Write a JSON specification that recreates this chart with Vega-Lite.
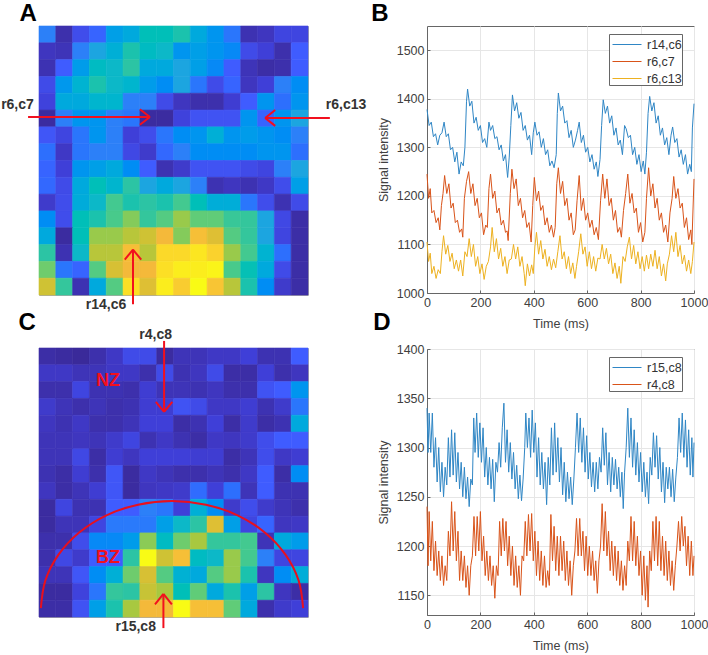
{"$schema":"https://vega.github.io/schema/vega-lite/v6.json","background":"white","padding":{"left":0,"top":1,"right":0,"bottom":0},"bounds":"flush","spacing":388,"resolve":{"scale":{"color":"independent","stroke":"independent","size":"independent"},"legend":{"color":"independent"}},
"config":{"font":"Liberation Sans","axis":{"labelFont":"Liberation Sans","titleFont":"Liberation Sans","labelFontSize":12.5,"titleFontSize":12.5,"titleFontWeight":"normal","labelColor":"#404040","titleColor":"#404040","gridColor":"#e6e6e6","domainColor":"#666666","tickColor":"#666666","tickSize":-3,"labelPadding":6,"labelOverlap":false,"labelFlush":false,"format":"d"}},
"datasets":{
"heatA":[
{"r":1,"c":1,"v":30},{"r":1,"c":2,"v":3},{"r":1,"c":3,"v":15},{"r":1,"c":4,"v":22},{"r":1,"c":5,"v":38},{"r":1,"c":6,"v":42},{"r":1,"c":7,"v":55},{"r":1,"c":8,"v":55},{"r":1,"c":9,"v":58},{"r":1,"c":10,"v":42},{"r":1,"c":11,"v":35},{"r":1,"c":12,"v":27},{"r":1,"c":13,"v":4},{"r":1,"c":14,"v":6},{"r":1,"c":15,"v":12},{"r":1,"c":16,"v":12},
{"r":2,"c":1,"v":6},{"r":2,"c":2,"v":5},{"r":2,"c":3,"v":30},{"r":2,"c":4,"v":40},{"r":2,"c":5,"v":45},{"r":2,"c":6,"v":58},{"r":2,"c":7,"v":52},{"r":2,"c":8,"v":50},{"r":2,"c":9,"v":35},{"r":2,"c":10,"v":38},{"r":2,"c":11,"v":35},{"r":2,"c":12,"v":32},{"r":2,"c":13,"v":14},{"r":2,"c":14,"v":10},{"r":2,"c":15,"v":3},{"r":2,"c":16,"v":20},
{"r":3,"c":1,"v":4},{"r":3,"c":2,"v":20},{"r":3,"c":3,"v":37},{"r":3,"c":4,"v":52},{"r":3,"c":5,"v":50},{"r":3,"c":6,"v":60},{"r":3,"c":7,"v":42},{"r":3,"c":8,"v":42},{"r":3,"c":9,"v":40},{"r":3,"c":10,"v":38},{"r":3,"c":11,"v":32},{"r":3,"c":12,"v":20},{"r":3,"c":13,"v":5},{"r":3,"c":14,"v":2},{"r":3,"c":15,"v":3},{"r":3,"c":16,"v":20},
{"r":4,"c":1,"v":14},{"r":4,"c":2,"v":36},{"r":4,"c":3,"v":47},{"r":4,"c":4,"v":58},{"r":4,"c":5,"v":50},{"r":4,"c":6,"v":48},{"r":4,"c":7,"v":37},{"r":4,"c":8,"v":33},{"r":4,"c":9,"v":40},{"r":4,"c":10,"v":27},{"r":4,"c":11,"v":14},{"r":4,"c":12,"v":22},{"r":4,"c":13,"v":6},{"r":4,"c":14,"v":10},{"r":4,"c":15,"v":30},{"r":4,"c":16,"v":33},
{"r":5,"c":1,"v":11},{"r":5,"c":2,"v":42},{"r":5,"c":3,"v":42},{"r":5,"c":4,"v":48},{"r":5,"c":5,"v":48},{"r":5,"c":6,"v":30},{"r":5,"c":7,"v":30},{"r":5,"c":8,"v":14},{"r":5,"c":9,"v":6},{"r":5,"c":10,"v":3},{"r":5,"c":11,"v":3},{"r":5,"c":12,"v":9},{"r":5,"c":13,"v":20},{"r":5,"c":14,"v":35},{"r":5,"c":15,"v":25},{"r":5,"c":16,"v":35},
{"r":6,"c":1,"v":1},{"r":6,"c":2,"v":30},{"r":6,"c":3,"v":35},{"r":6,"c":4,"v":35},{"r":6,"c":5,"v":30},{"r":6,"c":6,"v":27},{"r":6,"c":7,"v":1},{"r":6,"c":8,"v":1},{"r":6,"c":9,"v":11},{"r":6,"c":10,"v":17},{"r":6,"c":11,"v":17},{"r":6,"c":12,"v":17},{"r":6,"c":13,"v":35},{"r":6,"c":14,"v":22},{"r":6,"c":15,"v":35},{"r":6,"c":16,"v":40},
{"r":7,"c":1,"v":18},{"r":7,"c":2,"v":12},{"r":7,"c":3,"v":27},{"r":7,"c":4,"v":35},{"r":7,"c":5,"v":30},{"r":7,"c":6,"v":10},{"r":7,"c":7,"v":15},{"r":7,"c":8,"v":27},{"r":7,"c":9,"v":33},{"r":7,"c":10,"v":35},{"r":7,"c":11,"v":45},{"r":7,"c":12,"v":35},{"r":7,"c":13,"v":37},{"r":7,"c":14,"v":35},{"r":7,"c":15,"v":33},{"r":7,"c":16,"v":30},
{"r":8,"c":1,"v":25},{"r":8,"c":2,"v":7},{"r":8,"c":3,"v":27},{"r":8,"c":4,"v":30},{"r":8,"c":5,"v":30},{"r":8,"c":6,"v":13},{"r":8,"c":7,"v":8},{"r":8,"c":8,"v":23},{"r":8,"c":9,"v":30},{"r":8,"c":10,"v":33},{"r":8,"c":11,"v":33},{"r":8,"c":12,"v":33},{"r":8,"c":13,"v":33},{"r":8,"c":14,"v":35},{"r":8,"c":15,"v":35},{"r":8,"c":16,"v":25},
{"r":9,"c":1,"v":22},{"r":9,"c":2,"v":10},{"r":9,"c":3,"v":35},{"r":9,"c":4,"v":38},{"r":9,"c":5,"v":42},{"r":9,"c":6,"v":33},{"r":9,"c":7,"v":20},{"r":9,"c":8,"v":4},{"r":9,"c":9,"v":8},{"r":9,"c":10,"v":17},{"r":9,"c":11,"v":17},{"r":9,"c":12,"v":17},{"r":9,"c":13,"v":14},{"r":9,"c":14,"v":12},{"r":9,"c":15,"v":30},{"r":9,"c":16,"v":40},
{"r":10,"c":1,"v":23},{"r":10,"c":2,"v":14},{"r":10,"c":3,"v":42},{"r":10,"c":4,"v":55},{"r":10,"c":5,"v":48},{"r":10,"c":6,"v":60},{"r":10,"c":7,"v":40},{"r":10,"c":8,"v":42},{"r":10,"c":9,"v":40},{"r":10,"c":10,"v":30},{"r":10,"c":11,"v":4},{"r":10,"c":12,"v":6},{"r":10,"c":13,"v":4},{"r":10,"c":14,"v":7},{"r":10,"c":15,"v":15},{"r":10,"c":16,"v":38},
{"r":11,"c":1,"v":8},{"r":11,"c":2,"v":15},{"r":11,"c":3,"v":43},{"r":11,"c":4,"v":50},{"r":11,"c":5,"v":65},{"r":11,"c":6,"v":58},{"r":11,"c":7,"v":60},{"r":11,"c":8,"v":58},{"r":11,"c":9,"v":65},{"r":11,"c":10,"v":55},{"r":11,"c":11,"v":44},{"r":11,"c":12,"v":44},{"r":11,"c":13,"v":27},{"r":11,"c":14,"v":15},{"r":11,"c":15,"v":4},{"r":11,"c":16,"v":14},
{"r":12,"c":1,"v":33},{"r":12,"c":2,"v":15},{"r":12,"c":3,"v":55},{"r":12,"c":4,"v":58},{"r":12,"c":5,"v":66},{"r":12,"c":6,"v":75},{"r":12,"c":7,"v":62},{"r":12,"c":8,"v":68},{"r":12,"c":9,"v":78},{"r":12,"c":10,"v":70},{"r":12,"c":11,"v":70},{"r":12,"c":12,"v":63},{"r":12,"c":13,"v":62},{"r":12,"c":14,"v":40},{"r":12,"c":15,"v":13},{"r":12,"c":16,"v":2},
{"r":13,"c":1,"v":42},{"r":13,"c":2,"v":1},{"r":13,"c":3,"v":55},{"r":13,"c":4,"v":78},{"r":13,"c":5,"v":78},{"r":13,"c":6,"v":82},{"r":13,"c":7,"v":85},{"r":13,"c":8,"v":90},{"r":13,"c":9,"v":75},{"r":13,"c":10,"v":91},{"r":13,"c":11,"v":87},{"r":13,"c":12,"v":68},{"r":13,"c":13,"v":62},{"r":13,"c":14,"v":40},{"r":13,"c":15,"v":12},{"r":13,"c":16,"v":2},
{"r":14,"c":1,"v":60},{"r":14,"c":2,"v":4},{"r":14,"c":3,"v":50},{"r":14,"c":4,"v":82},{"r":14,"c":5,"v":82},{"r":14,"c":6,"v":91},{"r":14,"c":7,"v":82},{"r":14,"c":8,"v":95},{"r":14,"c":9,"v":95},{"r":14,"c":10,"v":97},{"r":14,"c":11,"v":94},{"r":14,"c":12,"v":78},{"r":14,"c":13,"v":65},{"r":14,"c":14,"v":47},{"r":14,"c":15,"v":25},{"r":14,"c":16,"v":2},
{"r":15,"c":1,"v":72},{"r":15,"c":2,"v":27},{"r":15,"c":3,"v":22},{"r":15,"c":4,"v":68},{"r":15,"c":5,"v":86},{"r":15,"c":6,"v":90},{"r":15,"c":7,"v":90},{"r":15,"c":8,"v":96},{"r":15,"c":9,"v":98},{"r":15,"c":10,"v":98},{"r":15,"c":11,"v":99},{"r":15,"c":12,"v":66},{"r":15,"c":13,"v":56},{"r":15,"c":14,"v":42},{"r":15,"c":15,"v":14},{"r":15,"c":16,"v":2},
{"r":16,"c":1,"v":85},{"r":16,"c":2,"v":62},{"r":16,"c":3,"v":4},{"r":16,"c":4,"v":42},{"r":16,"c":5,"v":68},{"r":16,"c":6,"v":96},{"r":16,"c":7,"v":87},{"r":16,"c":8,"v":98},{"r":16,"c":9,"v":93},{"r":16,"c":10,"v":100},{"r":16,"c":11,"v":92},{"r":16,"c":12,"v":82},{"r":16,"c":13,"v":58},{"r":16,"c":14,"v":33},{"r":16,"c":15,"v":8},{"r":16,"c":16,"v":2}],
"heatC":[
{"r":1,"c":1,"v":2},{"r":1,"c":2,"v":1},{"r":1,"c":3,"v":0},{"r":1,"c":4,"v":3},{"r":1,"c":5,"v":7},{"r":1,"c":6,"v":14},{"r":1,"c":7,"v":14},{"r":1,"c":8,"v":1},{"r":1,"c":9,"v":5},{"r":1,"c":10,"v":5},{"r":1,"c":11,"v":7},{"r":1,"c":12,"v":7},{"r":1,"c":13,"v":10},{"r":1,"c":14,"v":4},{"r":1,"c":15,"v":4},{"r":1,"c":16,"v":20},
{"r":2,"c":1,"v":7},{"r":2,"c":2,"v":7},{"r":2,"c":3,"v":5},{"r":2,"c":4,"v":5},{"r":2,"c":5,"v":7},{"r":2,"c":6,"v":7},{"r":2,"c":7,"v":3},{"r":2,"c":8,"v":14},{"r":2,"c":9,"v":4},{"r":2,"c":10,"v":6},{"r":2,"c":11,"v":14},{"r":2,"c":12,"v":2},{"r":2,"c":13,"v":2},{"r":2,"c":14,"v":10},{"r":2,"c":15,"v":3},{"r":2,"c":16,"v":6},
{"r":3,"c":1,"v":3},{"r":3,"c":2,"v":3},{"r":3,"c":3,"v":12},{"r":3,"c":4,"v":4},{"r":3,"c":5,"v":4},{"r":3,"c":6,"v":3},{"r":3,"c":7,"v":9},{"r":3,"c":8,"v":5},{"r":3,"c":9,"v":5},{"r":3,"c":10,"v":4},{"r":3,"c":11,"v":6},{"r":3,"c":12,"v":3},{"r":3,"c":13,"v":3},{"r":3,"c":14,"v":17},{"r":3,"c":15,"v":20},{"r":3,"c":16,"v":35},
{"r":4,"c":1,"v":8},{"r":4,"c":2,"v":5},{"r":4,"c":3,"v":3},{"r":4,"c":4,"v":5},{"r":4,"c":5,"v":3},{"r":4,"c":6,"v":4},{"r":4,"c":7,"v":9},{"r":4,"c":8,"v":9},{"r":4,"c":9,"v":17},{"r":4,"c":10,"v":14},{"r":4,"c":11,"v":7},{"r":4,"c":12,"v":7},{"r":4,"c":13,"v":9},{"r":4,"c":14,"v":4},{"r":4,"c":15,"v":8},{"r":4,"c":16,"v":27},
{"r":5,"c":1,"v":6},{"r":5,"c":2,"v":4},{"r":5,"c":3,"v":7},{"r":5,"c":4,"v":3},{"r":5,"c":5,"v":3},{"r":5,"c":6,"v":5},{"r":5,"c":7,"v":10},{"r":5,"c":8,"v":10},{"r":5,"c":9,"v":2},{"r":5,"c":10,"v":4},{"r":5,"c":11,"v":10},{"r":5,"c":12,"v":2},{"r":5,"c":13,"v":8},{"r":5,"c":14,"v":2},{"r":5,"c":15,"v":4},{"r":5,"c":16,"v":42},
{"r":6,"c":1,"v":5},{"r":6,"c":2,"v":5},{"r":6,"c":3,"v":6},{"r":6,"c":4,"v":5},{"r":6,"c":5,"v":8},{"r":6,"c":6,"v":12},{"r":6,"c":7,"v":4},{"r":6,"c":8,"v":7},{"r":6,"c":9,"v":4},{"r":6,"c":10,"v":2},{"r":6,"c":11,"v":7},{"r":6,"c":12,"v":6},{"r":6,"c":13,"v":8},{"r":6,"c":14,"v":15},{"r":6,"c":15,"v":20},{"r":6,"c":16,"v":20},
{"r":7,"c":1,"v":5},{"r":7,"c":2,"v":5},{"r":7,"c":3,"v":13},{"r":7,"c":4,"v":2},{"r":7,"c":5,"v":9},{"r":7,"c":6,"v":6},{"r":7,"c":7,"v":10},{"r":7,"c":8,"v":10},{"r":7,"c":9,"v":10},{"r":7,"c":10,"v":9},{"r":7,"c":11,"v":9},{"r":7,"c":12,"v":2},{"r":7,"c":13,"v":5},{"r":7,"c":14,"v":15},{"r":7,"c":15,"v":7},{"r":7,"c":16,"v":9},
{"r":8,"c":1,"v":4},{"r":8,"c":2,"v":2},{"r":8,"c":3,"v":9},{"r":8,"c":4,"v":3},{"r":8,"c":5,"v":18},{"r":8,"c":6,"v":1},{"r":8,"c":7,"v":7},{"r":8,"c":8,"v":5},{"r":8,"c":9,"v":3},{"r":8,"c":10,"v":3},{"r":8,"c":11,"v":5},{"r":8,"c":12,"v":3},{"r":8,"c":13,"v":7},{"r":8,"c":14,"v":20},{"r":8,"c":15,"v":2},{"r":8,"c":16,"v":33},
{"r":9,"c":1,"v":6},{"r":9,"c":2,"v":2},{"r":9,"c":3,"v":5},{"r":9,"c":4,"v":9},{"r":9,"c":5,"v":18},{"r":9,"c":6,"v":1},{"r":9,"c":7,"v":6},{"r":9,"c":8,"v":7},{"r":9,"c":9,"v":8},{"r":9,"c":10,"v":24},{"r":9,"c":11,"v":10},{"r":9,"c":12,"v":25},{"r":9,"c":13,"v":5},{"r":9,"c":14,"v":20},{"r":9,"c":15,"v":4},{"r":9,"c":16,"v":4},
{"r":10,"c":1,"v":1},{"r":10,"c":2,"v":12},{"r":10,"c":3,"v":4},{"r":10,"c":4,"v":4},{"r":10,"c":5,"v":20},{"r":10,"c":6,"v":20},{"r":10,"c":7,"v":30},{"r":10,"c":8,"v":27},{"r":10,"c":9,"v":10},{"r":10,"c":10,"v":45},{"r":10,"c":11,"v":33},{"r":10,"c":12,"v":8},{"r":10,"c":13,"v":15},{"r":10,"c":14,"v":8},{"r":10,"c":15,"v":5},{"r":10,"c":16,"v":3},
{"r":11,"c":1,"v":1},{"r":11,"c":2,"v":5},{"r":11,"c":3,"v":5},{"r":11,"c":4,"v":12},{"r":11,"c":5,"v":28},{"r":11,"c":6,"v":28},{"r":11,"c":7,"v":28},{"r":11,"c":8,"v":38},{"r":11,"c":9,"v":50},{"r":11,"c":10,"v":60},{"r":11,"c":11,"v":87},{"r":11,"c":12,"v":38},{"r":11,"c":13,"v":12},{"r":11,"c":14,"v":22},{"r":11,"c":15,"v":6},{"r":11,"c":16,"v":7},
{"r":12,"c":1,"v":3},{"r":12,"c":2,"v":3},{"r":12,"c":3,"v":15},{"r":12,"c":4,"v":32},{"r":12,"c":5,"v":32},{"r":12,"c":6,"v":37},{"r":12,"c":7,"v":76},{"r":12,"c":8,"v":52},{"r":12,"c":9,"v":72},{"r":12,"c":10,"v":80},{"r":12,"c":11,"v":62},{"r":12,"c":12,"v":62},{"r":12,"c":13,"v":65},{"r":12,"c":14,"v":5},{"r":12,"c":15,"v":42},{"r":12,"c":16,"v":37},
{"r":13,"c":1,"v":3},{"r":13,"c":2,"v":13},{"r":13,"c":3,"v":8},{"r":13,"c":4,"v":20},{"r":13,"c":5,"v":20},{"r":13,"c":6,"v":60},{"r":13,"c":7,"v":100},{"r":13,"c":8,"v":85},{"r":13,"c":9,"v":91},{"r":13,"c":10,"v":52},{"r":13,"c":11,"v":50},{"r":13,"c":12,"v":78},{"r":13,"c":13,"v":65},{"r":13,"c":14,"v":30},{"r":13,"c":15,"v":12},{"r":13,"c":16,"v":12},
{"r":14,"c":1,"v":5},{"r":14,"c":2,"v":5},{"r":14,"c":3,"v":18},{"r":14,"c":4,"v":33},{"r":14,"c":5,"v":45},{"r":14,"c":6,"v":72},{"r":14,"c":7,"v":86},{"r":14,"c":8,"v":68},{"r":14,"c":9,"v":46},{"r":14,"c":10,"v":42},{"r":14,"c":11,"v":68},{"r":14,"c":12,"v":78},{"r":14,"c":13,"v":58},{"r":14,"c":14,"v":6},{"r":14,"c":15,"v":33},{"r":14,"c":16,"v":44},
{"r":15,"c":1,"v":1},{"r":15,"c":2,"v":1},{"r":15,"c":3,"v":11},{"r":15,"c":4,"v":27},{"r":15,"c":5,"v":62},{"r":15,"c":6,"v":60},{"r":15,"c":7,"v":84},{"r":15,"c":8,"v":80},{"r":15,"c":9,"v":55},{"r":15,"c":10,"v":70},{"r":15,"c":11,"v":42},{"r":15,"c":12,"v":58},{"r":15,"c":13,"v":38},{"r":15,"c":14,"v":60},{"r":15,"c":15,"v":6},{"r":15,"c":16,"v":2},
{"r":16,"c":1,"v":2},{"r":16,"c":2,"v":2},{"r":16,"c":3,"v":17},{"r":16,"c":4,"v":38},{"r":16,"c":5,"v":58},{"r":16,"c":6,"v":80},{"r":16,"c":7,"v":90},{"r":16,"c":8,"v":90},{"r":16,"c":9,"v":100},{"r":16,"c":10,"v":91},{"r":16,"c":11,"v":91},{"r":16,"c":12,"v":70},{"r":16,"c":13,"v":42},{"r":16,"c":14,"v":3},{"r":16,"c":15,"v":8},{"r":16,"c":16,"v":10}],
"segA":[{"x":-0.65,"y":5.41,"x2":6.6,"y2":5.41},{"x":6.6,"y":5.41,"x2":6.0,"y2":4.95},{"x":6.6,"y":5.41,"x2":6.0,"y2":5.87},{"x":17.3,"y":5.47,"x2":13.45,"y2":5.47},{"x":13.45,"y":5.47,"x2":14.05,"y2":5.0},{"x":13.45,"y":5.47,"x2":14.05,"y2":5.94},{"x":5.59,"y":16.55,"x2":5.59,"y2":13.3},{"x":5.59,"y":13.3,"x2":5.1,"y2":13.9},{"x":5.59,"y":13.3,"x2":6.08,"y2":13.9}],
"segC":[{"x":7.44,"y":-0.42,"x2":7.44,"y2":3.8},{"x":7.44,"y":3.8,"x2":6.95,"y2":3.2},{"x":7.44,"y":3.8,"x2":7.93,"y2":3.2},{"x":7.4,"y":16.66,"x2":7.4,"y2":14.63},{"x":7.4,"y":14.63,"x2":6.9,"y2":15.25},{"x":7.4,"y":14.63,"x2":7.9,"y2":15.25}],
"arc":[{"x":0.11,"y":15.47},{"x":0.38,"y":13.82},{"x":1.16,"y":12.29},{"x":2.39,"y":10.97},{"x":4.01,"y":9.95},{"x":5.89,"y":9.32},{"x":7.91,"y":9.1},{"x":9.93,"y":9.32},{"x":11.81,"y":9.95},{"x":13.43,"y":10.97},{"x":14.66,"y":12.29},{"x":15.44,"y":13.82},{"x":15.71,"y":15.47}],
"txtA":[{"x":-0.65,"y":-0.71,"label":"A","kind":"panel"},{"x":-1.28,"y":4.7,"label":"r6,c7","kind":"note"},{"x":18.26,"y":4.7,"label":"r6,c13","kind":"note"},{"x":3.99,"y":16.6,"label":"r14,c6","kind":"note"}],
"txtC":[{"x":-0.7,"y":-1.5,"label":"C","kind":"panel"},{"x":6.94,"y":-0.77,"label":"r4,c8","kind":"note"},{"x":5.75,"y":16.6,"label":"r15,c8","kind":"note"},{"x":4.1,"y":1.96,"label":"NZ","kind":"zone"},{"x":4.1,"y":12.5,"label":"BZ","kind":"zone"}],
"s1":[{"t":0,"v":1378},{"t":8,"v":1345},{"t":16,"v":1352},{"t":24,"v":1322},{"t":32,"v":1328},{"t":40,"v":1305},{"t":48,"v":1325},{"t":56,"v":1330},{"t":64,"v":1352},{"t":72,"v":1322},{"t":80,"v":1328},{"t":88,"v":1295},{"t":96,"v":1300},{"t":104,"v":1270},{"t":112,"v":1290},{"t":120,"v":1245},{"t":128,"v":1270},{"t":136,"v":1262},{"t":142,"v":1300},{"t":148,"v":1395},{"t":152,"v":1420},{"t":160,"v":1385},{"t":168,"v":1395},{"t":176,"v":1350},{"t":184,"v":1362},{"t":192,"v":1335},{"t":200,"v":1345},{"t":208,"v":1310},{"t":216,"v":1318},{"t":224,"v":1300},{"t":232,"v":1352},{"t":238,"v":1335},{"t":246,"v":1345},{"t":254,"v":1318},{"t":262,"v":1322},{"t":270,"v":1295},{"t":278,"v":1305},{"t":286,"v":1272},{"t":294,"v":1285},{"t":302,"v":1238},{"t":308,"v":1280},{"t":314,"v":1345},{"t":320,"v":1408},{"t":328,"v":1375},{"t":336,"v":1392},{"t":344,"v":1360},{"t":352,"v":1372},{"t":360,"v":1335},{"t":368,"v":1345},{"t":376,"v":1315},{"t":384,"v":1325},{"t":392,"v":1285},{"t":398,"v":1330},{"t":404,"v":1352},{"t":412,"v":1325},{"t":420,"v":1332},{"t":428,"v":1300},{"t":436,"v":1318},{"t":444,"v":1285},{"t":452,"v":1295},{"t":460,"v":1262},{"t":468,"v":1272},{"t":476,"v":1258},{"t":484,"v":1285},{"t":488,"v":1370},{"t":492,"v":1412},{"t":500,"v":1375},{"t":508,"v":1385},{"t":516,"v":1350},{"t":524,"v":1355},{"t":532,"v":1320},{"t":540,"v":1335},{"t":548,"v":1300},{"t":556,"v":1315},{"t":564,"v":1335},{"t":570,"v":1352},{"t":578,"v":1310},{"t":586,"v":1325},{"t":594,"v":1290},{"t":602,"v":1300},{"t":610,"v":1270},{"t":618,"v":1285},{"t":626,"v":1255},{"t":634,"v":1270},{"t":640,"v":1240},{"t":648,"v":1275},{"t":654,"v":1345},{"t":660,"v":1398},{"t":668,"v":1370},{"t":676,"v":1385},{"t":684,"v":1350},{"t":692,"v":1365},{"t":700,"v":1325},{"t":708,"v":1340},{"t":716,"v":1305},{"t":724,"v":1315},{"t":732,"v":1285},{"t":740,"v":1345},{"t":746,"v":1338},{"t":754,"v":1320},{"t":762,"v":1325},{"t":770,"v":1285},{"t":778,"v":1300},{"t":786,"v":1265},{"t":794,"v":1285},{"t":802,"v":1250},{"t":810,"v":1272},{"t":816,"v":1245},{"t":822,"v":1290},{"t":828,"v":1370},{"t":834,"v":1405},{"t":842,"v":1375},{"t":850,"v":1392},{"t":858,"v":1350},{"t":866,"v":1365},{"t":874,"v":1325},{"t":882,"v":1340},{"t":890,"v":1305},{"t":898,"v":1320},{"t":906,"v":1285},{"t":914,"v":1325},{"t":920,"v":1342},{"t":928,"v":1310},{"t":936,"v":1318},{"t":944,"v":1280},{"t":952,"v":1295},{"t":960,"v":1265},{"t":968,"v":1285},{"t":976,"v":1245},{"t":984,"v":1265},{"t":990,"v":1250},{"t":994,"v":1340},{"t":1000,"v":1390}],
"s2":[{"t":0,"v":1245},{"t":6,"v":1195},{"t":12,"v":1215},{"t":18,"v":1165},{"t":26,"v":1170},{"t":34,"v":1145},{"t":42,"v":1155},{"t":48,"v":1130},{"t":54,"v":1180},{"t":60,"v":1205},{"t":66,"v":1242},{"t":74,"v":1205},{"t":82,"v":1225},{"t":90,"v":1175},{"t":98,"v":1185},{"t":106,"v":1145},{"t":114,"v":1150},{"t":122,"v":1125},{"t":130,"v":1132},{"t":134,"v":1115},{"t":140,"v":1195},{"t":148,"v":1230},{"t":156,"v":1250},{"t":164,"v":1205},{"t":172,"v":1225},{"t":180,"v":1180},{"t":188,"v":1195},{"t":196,"v":1155},{"t":204,"v":1165},{"t":212,"v":1120},{"t":220,"v":1140},{"t":226,"v":1135},{"t":232,"v":1215},{"t":238,"v":1245},{"t":246,"v":1195},{"t":254,"v":1210},{"t":262,"v":1165},{"t":270,"v":1175},{"t":278,"v":1140},{"t":286,"v":1150},{"t":294,"v":1125},{"t":300,"v":1128},{"t":304,"v":1108},{"t":312,"v":1205},{"t":318,"v":1255},{"t":326,"v":1215},{"t":334,"v":1235},{"t":342,"v":1180},{"t":350,"v":1195},{"t":358,"v":1155},{"t":366,"v":1170},{"t":374,"v":1135},{"t":382,"v":1145},{"t":390,"v":1105},{"t":396,"v":1180},{"t":402,"v":1238},{"t":410,"v":1190},{"t":418,"v":1210},{"t":426,"v":1170},{"t":434,"v":1180},{"t":442,"v":1140},{"t":450,"v":1155},{"t":458,"v":1125},{"t":466,"v":1140},{"t":474,"v":1115},{"t":480,"v":1135},{"t":486,"v":1225},{"t":492,"v":1258},{"t":500,"v":1205},{"t":508,"v":1230},{"t":516,"v":1180},{"t":524,"v":1195},{"t":532,"v":1150},{"t":540,"v":1165},{"t":548,"v":1120},{"t":555,"v":1130},{"t":562,"v":1190},{"t":570,"v":1242},{"t":578,"v":1170},{"t":586,"v":1195},{"t":594,"v":1150},{"t":602,"v":1165},{"t":610,"v":1135},{"t":618,"v":1150},{"t":626,"v":1120},{"t":634,"v":1135},{"t":642,"v":1110},{"t":650,"v":1190},{"t":658,"v":1245},{"t":666,"v":1195},{"t":674,"v":1235},{"t":682,"v":1180},{"t":690,"v":1195},{"t":698,"v":1150},{"t":706,"v":1170},{"t":714,"v":1125},{"t":722,"v":1135},{"t":728,"v":1115},{"t":736,"v":1170},{"t":744,"v":1205},{"t":752,"v":1245},{"t":760,"v":1185},{"t":768,"v":1205},{"t":776,"v":1165},{"t":784,"v":1175},{"t":792,"v":1125},{"t":800,"v":1145},{"t":808,"v":1105},{"t":816,"v":1125},{"t":822,"v":1195},{"t":830,"v":1258},{"t":838,"v":1200},{"t":846,"v":1225},{"t":854,"v":1175},{"t":862,"v":1195},{"t":870,"v":1150},{"t":878,"v":1165},{"t":886,"v":1125},{"t":894,"v":1140},{"t":902,"v":1105},{"t":910,"v":1165},{"t":918,"v":1195},{"t":924,"v":1240},{"t":932,"v":1195},{"t":940,"v":1215},{"t":948,"v":1175},{"t":956,"v":1185},{"t":964,"v":1135},{"t":972,"v":1155},{"t":980,"v":1110},{"t":988,"v":1130},{"t":992,"v":1100},{"t":1000,"v":1235}],
"s3":[{"t":0,"v":1105},{"t":6,"v":1065},{"t":12,"v":1082},{"t":18,"v":1040},{"t":26,"v":1055},{"t":34,"v":1030},{"t":42,"v":1048},{"t":50,"v":1040},{"t":56,"v":1085},{"t":62,"v":1118},{"t":70,"v":1080},{"t":78,"v":1098},{"t":86,"v":1065},{"t":94,"v":1082},{"t":102,"v":1050},{"t":110,"v":1068},{"t":118,"v":1045},{"t":126,"v":1068},{"t":134,"v":1035},{"t":142,"v":1085},{"t":150,"v":1075},{"t":158,"v":1112},{"t":166,"v":1075},{"t":174,"v":1100},{"t":182,"v":1055},{"t":190,"v":1075},{"t":198,"v":1040},{"t":206,"v":1060},{"t":214,"v":1028},{"t":222,"v":1055},{"t":230,"v":1065},{"t":238,"v":1095},{"t":244,"v":1135},{"t":252,"v":1085},{"t":260,"v":1112},{"t":268,"v":1070},{"t":276,"v":1092},{"t":284,"v":1055},{"t":292,"v":1075},{"t":300,"v":1040},{"t":308,"v":1068},{"t":316,"v":1070},{"t":324,"v":1100},{"t":332,"v":1070},{"t":340,"v":1095},{"t":348,"v":1055},{"t":356,"v":1075},{"t":364,"v":1040},{"t":368,"v":1015},{"t":376,"v":1060},{"t":384,"v":1035},{"t":392,"v":1058},{"t":398,"v":1040},{"t":404,"v":1095},{"t":410,"v":1125},{"t":418,"v":1080},{"t":426,"v":1108},{"t":434,"v":1070},{"t":442,"v":1090},{"t":450,"v":1055},{"t":458,"v":1075},{"t":466,"v":1048},{"t":474,"v":1070},{"t":482,"v":1052},{"t":490,"v":1085},{"t":498,"v":1118},{"t":506,"v":1070},{"t":514,"v":1085},{"t":522,"v":1050},{"t":530,"v":1075},{"t":538,"v":1040},{"t":546,"v":1062},{"t":554,"v":1030},{"t":560,"v":1055},{"t":568,"v":1085},{"t":576,"v":1122},{"t":584,"v":1080},{"t":592,"v":1095},{"t":600,"v":1055},{"t":608,"v":1085},{"t":616,"v":1050},{"t":624,"v":1075},{"t":632,"v":1045},{"t":640,"v":1072},{"t":648,"v":1070},{"t":656,"v":1100},{"t":664,"v":1070},{"t":672,"v":1092},{"t":680,"v":1060},{"t":688,"v":1080},{"t":696,"v":1040},{"t":704,"v":1062},{"t":712,"v":1030},{"t":720,"v":1055},{"t":726,"v":1020},{"t":734,"v":1075},{"t":742,"v":1065},{"t":750,"v":1095},{"t":758,"v":1115},{"t":766,"v":1070},{"t":774,"v":1098},{"t":782,"v":1060},{"t":790,"v":1085},{"t":798,"v":1050},{"t":806,"v":1075},{"t":814,"v":1045},{"t":822,"v":1078},{"t":830,"v":1050},{"t":838,"v":1080},{"t":846,"v":1055},{"t":854,"v":1088},{"t":862,"v":1050},{"t":870,"v":1075},{"t":878,"v":1035},{"t":886,"v":1060},{"t":894,"v":1025},{"t":900,"v":1060},{"t":908,"v":1080},{"t":916,"v":1118},{"t":924,"v":1085},{"t":932,"v":1125},{"t":940,"v":1075},{"t":948,"v":1098},{"t":956,"v":1060},{"t":964,"v":1078},{"t":972,"v":1045},{"t":980,"v":1068},{"t":988,"v":1040},{"t":994,"v":1065},{"t":1000,"v":1105}],
"s4":[{"t":0,"v":1340},{"t":4,"v":1295},{"t":8,"v":1335},{"t":14,"v":1295},{"t":20,"v":1335},{"t":26,"v":1280},{"t":32,"v":1310},{"t":38,"v":1265},{"t":44,"v":1300},{"t":50,"v":1255},{"t":56,"v":1285},{"t":62,"v":1250},{"t":68,"v":1280},{"t":74,"v":1262},{"t":80,"v":1310},{"t":86,"v":1270},{"t":92,"v":1318},{"t":98,"v":1272},{"t":104,"v":1315},{"t":110,"v":1265},{"t":116,"v":1295},{"t":122,"v":1258},{"t":128,"v":1285},{"t":134,"v":1250},{"t":140,"v":1280},{"t":146,"v":1248},{"t":152,"v":1270},{"t":158,"v":1240},{"t":164,"v":1268},{"t":170,"v":1262},{"t":175,"v":1330},{"t":180,"v":1295},{"t":186,"v":1335},{"t":192,"v":1290},{"t":198,"v":1325},{"t":204,"v":1285},{"t":210,"v":1320},{"t":216,"v":1270},{"t":222,"v":1300},{"t":228,"v":1262},{"t":234,"v":1290},{"t":240,"v":1258},{"t":246,"v":1288},{"t":252,"v":1245},{"t":258,"v":1285},{"t":264,"v":1275},{"t":270,"v":1305},{"t":276,"v":1280},{"t":282,"v":1320},{"t":288,"v":1345},{"t":294,"v":1285},{"t":300,"v":1318},{"t":306,"v":1275},{"t":312,"v":1305},{"t":318,"v":1268},{"t":324,"v":1295},{"t":330,"v":1258},{"t":336,"v":1282},{"t":342,"v":1248},{"t":348,"v":1272},{"t":354,"v":1246},{"t":360,"v":1268},{"t":366,"v":1300},{"t":370,"v":1335},{"t":376,"v":1300},{"t":382,"v":1330},{"t":388,"v":1290},{"t":394,"v":1338},{"t":400,"v":1295},{"t":406,"v":1325},{"t":412,"v":1270},{"t":418,"v":1310},{"t":424,"v":1262},{"t":430,"v":1295},{"t":436,"v":1258},{"t":442,"v":1285},{"t":448,"v":1242},{"t":454,"v":1290},{"t":460,"v":1262},{"t":466,"v":1320},{"t":472,"v":1272},{"t":478,"v":1325},{"t":484,"v":1275},{"t":490,"v":1310},{"t":496,"v":1265},{"t":502,"v":1300},{"t":508,"v":1252},{"t":514,"v":1285},{"t":520,"v":1245},{"t":526,"v":1275},{"t":532,"v":1248},{"t":538,"v":1270},{"t":544,"v":1242},{"t":550,"v":1268},{"t":556,"v":1300},{"t":562,"v":1335},{"t":568,"v":1295},{"t":574,"v":1330},{"t":580,"v":1285},{"t":586,"v":1320},{"t":592,"v":1275},{"t":598,"v":1312},{"t":604,"v":1268},{"t":610,"v":1295},{"t":616,"v":1260},{"t":622,"v":1285},{"t":628,"v":1255},{"t":634,"v":1285},{"t":640,"v":1258},{"t":646,"v":1290},{"t":652,"v":1275},{"t":658,"v":1320},{"t":664,"v":1282},{"t":670,"v":1315},{"t":676,"v":1262},{"t":682,"v":1295},{"t":688,"v":1255},{"t":694,"v":1290},{"t":700,"v":1262},{"t":706,"v":1288},{"t":712,"v":1258},{"t":718,"v":1280},{"t":724,"v":1250},{"t":730,"v":1275},{"t":735,"v":1238},{"t":740,"v":1275},{"t":746,"v":1300},{"t":752,"v":1340},{"t":758,"v":1290},{"t":764,"v":1330},{"t":770,"v":1280},{"t":776,"v":1318},{"t":782,"v":1272},{"t":788,"v":1305},{"t":794,"v":1265},{"t":800,"v":1295},{"t":806,"v":1255},{"t":812,"v":1285},{"t":818,"v":1250},{"t":824,"v":1275},{"t":830,"v":1243},{"t":836,"v":1290},{"t":842,"v":1272},{"t":848,"v":1315},{"t":854,"v":1280},{"t":860,"v":1312},{"t":866,"v":1268},{"t":872,"v":1300},{"t":878,"v":1255},{"t":884,"v":1285},{"t":890,"v":1244},{"t":896,"v":1280},{"t":902,"v":1258},{"t":908,"v":1280},{"t":914,"v":1250},{"t":920,"v":1278},{"t":926,"v":1245},{"t":932,"v":1270},{"t":938,"v":1290},{"t":944,"v":1330},{"t":950,"v":1295},{"t":956,"v":1335},{"t":962,"v":1290},{"t":968,"v":1328},{"t":974,"v":1280},{"t":980,"v":1318},{"t":986,"v":1272},{"t":992,"v":1310},{"t":996,"v":1270},{"t":1000,"v":1305}],
"s5":[{"t":0,"v":1240},{"t":4,"v":1180},{"t":8,"v":1235},{"t":14,"v":1185},{"t":20,"v":1225},{"t":26,"v":1175},{"t":32,"v":1205},{"t":38,"v":1170},{"t":44,"v":1195},{"t":50,"v":1165},{"t":56,"v":1190},{"t":62,"v":1160},{"t":68,"v":1180},{"t":74,"v":1165},{"t":80,"v":1215},{"t":86,"v":1190},{"t":92,"v":1245},{"t":98,"v":1195},{"t":104,"v":1235},{"t":110,"v":1185},{"t":116,"v":1215},{"t":122,"v":1165},{"t":128,"v":1195},{"t":134,"v":1165},{"t":140,"v":1190},{"t":146,"v":1158},{"t":152,"v":1180},{"t":158,"v":1150},{"t":164,"v":1180},{"t":170,"v":1190},{"t":176,"v":1230},{"t":182,"v":1190},{"t":188,"v":1230},{"t":194,"v":1195},{"t":200,"v":1235},{"t":206,"v":1185},{"t":212,"v":1210},{"t":218,"v":1170},{"t":224,"v":1195},{"t":230,"v":1165},{"t":236,"v":1190},{"t":242,"v":1160},{"t":248,"v":1180},{"t":254,"v":1147},{"t":260,"v":1180},{"t":266,"v":1170},{"t":272,"v":1225},{"t":278,"v":1190},{"t":284,"v":1228},{"t":290,"v":1195},{"t":296,"v":1225},{"t":302,"v":1180},{"t":308,"v":1210},{"t":314,"v":1170},{"t":320,"v":1200},{"t":326,"v":1160},{"t":332,"v":1190},{"t":338,"v":1158},{"t":344,"v":1180},{"t":350,"v":1150},{"t":356,"v":1190},{"t":362,"v":1185},{"t":368,"v":1225},{"t":374,"v":1190},{"t":380,"v":1232},{"t":386,"v":1195},{"t":392,"v":1233},{"t":398,"v":1185},{"t":404,"v":1215},{"t":410,"v":1170},{"t":416,"v":1205},{"t":422,"v":1165},{"t":428,"v":1195},{"t":434,"v":1160},{"t":440,"v":1190},{"t":446,"v":1158},{"t":452,"v":1175},{"t":458,"v":1160},{"t":464,"v":1232},{"t":470,"v":1185},{"t":476,"v":1220},{"t":482,"v":1175},{"t":488,"v":1210},{"t":494,"v":1170},{"t":500,"v":1210},{"t":506,"v":1175},{"t":512,"v":1205},{"t":518,"v":1165},{"t":524,"v":1195},{"t":530,"v":1160},{"t":536,"v":1185},{"t":542,"v":1150},{"t":548,"v":1180},{"t":554,"v":1195},{"t":560,"v":1228},{"t":566,"v":1190},{"t":572,"v":1228},{"t":578,"v":1190},{"t":584,"v":1215},{"t":590,"v":1175},{"t":596,"v":1210},{"t":602,"v":1170},{"t":608,"v":1200},{"t":614,"v":1170},{"t":620,"v":1195},{"t":626,"v":1165},{"t":632,"v":1185},{"t":638,"v":1152},{"t":644,"v":1185},{"t":650,"v":1200},{"t":656,"v":1243},{"t":662,"v":1195},{"t":668,"v":1235},{"t":674,"v":1190},{"t":680,"v":1215},{"t":686,"v":1175},{"t":692,"v":1205},{"t":698,"v":1170},{"t":704,"v":1200},{"t":710,"v":1165},{"t":716,"v":1195},{"t":722,"v":1160},{"t":728,"v":1185},{"t":734,"v":1155},{"t":740,"v":1180},{"t":746,"v":1160},{"t":752,"v":1205},{"t":758,"v":1185},{"t":764,"v":1230},{"t":770,"v":1185},{"t":776,"v":1225},{"t":782,"v":1180},{"t":788,"v":1210},{"t":794,"v":1170},{"t":800,"v":1195},{"t":806,"v":1150},{"t":812,"v":1190},{"t":818,"v":1145},{"t":824,"v":1180},{"t":828,"v":1138},{"t":834,"v":1195},{"t":840,"v":1175},{"t":846,"v":1225},{"t":852,"v":1185},{"t":858,"v":1230},{"t":864,"v":1180},{"t":870,"v":1225},{"t":876,"v":1175},{"t":882,"v":1210},{"t":888,"v":1170},{"t":894,"v":1205},{"t":900,"v":1165},{"t":906,"v":1195},{"t":912,"v":1160},{"t":918,"v":1185},{"t":924,"v":1155},{"t":930,"v":1180},{"t":936,"v":1200},{"t":942,"v":1225},{"t":948,"v":1195},{"t":954,"v":1230},{"t":960,"v":1200},{"t":966,"v":1220},{"t":972,"v":1180},{"t":978,"v":1210},{"t":984,"v":1170},{"t":990,"v":1205},{"t":996,"v":1170},{"t":1000,"v":1190}],
"lblB":[{"t":-176,"v":1575,"label":"B"}],
"lblD":[{"t":-169,"v":1426,"label":"D"}]
},
"hconcat":[
{"vconcat":[
{"width":269,"height":269,"view":{"stroke":"#aaaaaa"},"resolve":{"scale":{"x":"independent","y":"independent","color":"independent"}},"layer":[
{"data":{"name":"heatA"},"mark":{"type":"rect","strokeWidth":0.6},"encoding":{"x":{"field":"c","type":"ordinal","axis":null,"scale":{"paddingInner":0,"paddingOuter":0}},"y":{"field":"r","type":"ordinal","axis":null,"scale":{"paddingInner":0,"paddingOuter":0}},"color":{"field":"v","type":"quantitative","legend":null,"scale":{"domain":[0,10,20,30,40,50,60,70,80,90,100],"range":["#3a2a9a","#3f3fd8","#3f5cff","#2c80f8","#1ca5e0","#0cb8c8","#2cc4a4","#60cc78","#a8c840","#f4b93a","#f9fb15"]}},"stroke":{"field":"v","type":"quantitative","legend":null,"scale":{"domain":[0,10,20,30,40,50,60,70,80,90,100],"range":["#3a2a9a","#3f3fd8","#3f5cff","#2c80f8","#1ca5e0","#0cb8c8","#2cc4a4","#60cc78","#a8c840","#f4b93a","#f9fb15"]}}}},
{"layer":[
{"data":{"name":"segA"},"mark":{"type":"rule","color":"#f2101e","strokeWidth":2},"encoding":{"x":{"field":"x","type":"quantitative","axis":null,"scale":{"domain":[0,16],"nice":false,"zero":false}},"y":{"field":"y","type":"quantitative","axis":null,"scale":{"domain":[0,16],"reverse":true,"nice":false,"zero":false}},"x2":{"field":"x2"},"y2":{"field":"y2"}}},
{"data":{"name":"txtA"},"mark":{"type":"text","fontWeight":"bold","align":"center","baseline":"middle"},"encoding":{"x":{"field":"x","type":"quantitative","axis":null,"scale":{"domain":[0,16],"nice":false,"zero":false}},"y":{"field":"y","type":"quantitative","axis":null,"scale":{"domain":[0,16],"reverse":true,"nice":false,"zero":false}},"text":{"field":"label"},"size":{"field":"kind","type":"nominal","legend":null,"scale":{"type":"ordinal","domain":["panel","note","zone"],"range":[24,14,18]}},"color":{"field":"kind","type":"nominal","legend":null,"scale":{"domain":["panel","note","zone"],"range":["#000000","#333333","#f2101e"]}}}}
]}
]},
{"width":269,"height":269,"view":{"stroke":"#aaaaaa"},"resolve":{"scale":{"x":"independent","y":"independent","color":"independent"}},"layer":[
{"data":{"name":"heatC"},"mark":{"type":"rect","strokeWidth":0.6},"encoding":{"x":{"field":"c","type":"ordinal","axis":null,"scale":{"paddingInner":0,"paddingOuter":0}},"y":{"field":"r","type":"ordinal","axis":null,"scale":{"paddingInner":0,"paddingOuter":0}},"color":{"field":"v","type":"quantitative","legend":null,"scale":{"domain":[0,10,20,30,40,50,60,70,80,90,100],"range":["#3a2a9a","#3f3fd8","#3f5cff","#2c80f8","#1ca5e0","#0cb8c8","#2cc4a4","#60cc78","#a8c840","#f4b93a","#f9fb15"]}},"stroke":{"field":"v","type":"quantitative","legend":null,"scale":{"domain":[0,10,20,30,40,50,60,70,80,90,100],"range":["#3a2a9a","#3f3fd8","#3f5cff","#2c80f8","#1ca5e0","#0cb8c8","#2cc4a4","#60cc78","#a8c840","#f4b93a","#f9fb15"]}}}},
{"layer":[
{"data":{"name":"segC"},"mark":{"type":"rule","color":"#f2101e","strokeWidth":2},"encoding":{"x":{"field":"x","type":"quantitative","axis":null,"scale":{"domain":[0,16],"nice":false,"zero":false}},"y":{"field":"y","type":"quantitative","axis":null,"scale":{"domain":[0,16],"reverse":true,"nice":false,"zero":false}},"x2":{"field":"x2"},"y2":{"field":"y2"}}},
{"data":{"name":"arc"},"mark":{"type":"line","color":"#e8101e","strokeWidth":2,"interpolate":"cardinal"},"encoding":{"x":{"field":"x","type":"quantitative","axis":null,"scale":{"domain":[0,16],"nice":false,"zero":false}},"y":{"field":"y","type":"quantitative","axis":null,"scale":{"domain":[0,16],"reverse":true,"nice":false,"zero":false}}}},
{"data":{"name":"txtC"},"mark":{"type":"text","fontWeight":"bold","align":"center","baseline":"middle"},"encoding":{"x":{"field":"x","type":"quantitative","axis":null,"scale":{"domain":[0,16],"nice":false,"zero":false}},"y":{"field":"y","type":"quantitative","axis":null,"scale":{"domain":[0,16],"reverse":true,"nice":false,"zero":false}},"text":{"field":"label"},"size":{"field":"kind","type":"nominal","legend":null,"scale":{"type":"ordinal","domain":["panel","note","zone"],"range":[24,14,18]}},"color":{"field":"kind","type":"nominal","legend":null,"scale":{"domain":["panel","note","zone"],"range":["#000000","#333333","#f2101e"]}}}}
]}
]}
],"spacing":53,"bounds":"flush","resolve":{"scale":{"color":"independent","stroke":"independent","size":"independent"}}},
{"vconcat":[
{"width":267,"height":267,"view":{"stroke":"#666666"},"layer":[
{"data":{"name":"s1"},"mark":{"type":"line","strokeWidth":1},"encoding":{"x":{"field":"t","type":"quantitative","scale":{"domain":[0,1000],"nice":false},"axis":{"values":[0,200,400,600,800,1000],"title":"Time (ms)","titlePadding":9}},"y":{"field":"v","type":"quantitative","scale":{"domain":[1000,1550],"nice":false,"zero":false},"axis":{"values":[1000,1100,1200,1300,1400,1500],"title":"Signal intensity","titlePadding":6}},"color":{"datum":"r14,c6","type":"nominal","scale":{"domain":["r14,c6","r6,c7","r6,c13"],"range":["#2f86c5","#d95319","#edb120"]},"legend":{"title":null,"orient":"none","legendX":182,"legendY":8,"fillColor":"white","strokeColor":"#666666","padding":0,"symbolType":"M-0.7,0L2.2,0","symbolSize":400,"symbolStrokeWidth":1,"labelOffset":17,"labelFontSize":12.5,"labelColor":"#333333","labelFont":"Liberation Sans","rowPadding":-4}}}},
{"data":{"name":"s2"},"mark":{"type":"line","strokeWidth":1},"encoding":{"x":{"field":"t","type":"quantitative"},"y":{"field":"v","type":"quantitative"},"color":{"datum":"r6,c7","type":"nominal"}}},
{"data":{"name":"s3"},"mark":{"type":"line","strokeWidth":1},"encoding":{"x":{"field":"t","type":"quantitative"},"y":{"field":"v","type":"quantitative"},"color":{"datum":"r6,c13","type":"nominal"}}},
{"data":{"name":"lblB"},"mark":{"type":"text","fontWeight":"bold","fontSize":24,"color":"#000000","align":"center","baseline":"middle"},"encoding":{"x":{"field":"t","type":"quantitative"},"y":{"field":"v","type":"quantitative"},"text":{"field":"label"}}}
]},
{"width":267,"height":266,"view":{"stroke":"#666666"},"layer":[
{"data":{"name":"s4"},"mark":{"type":"line","strokeWidth":1},"encoding":{"x":{"field":"t","type":"quantitative","scale":{"domain":[0,1000],"nice":false},"axis":{"values":[0,200,400,600,800,1000],"title":"Time (ms)","titlePadding":9}},"y":{"field":"v","type":"quantitative","scale":{"domain":[1130,1400],"nice":false,"zero":false},"axis":{"values":[1150,1200,1250,1300,1350,1400],"title":"Signal intensity","titlePadding":6}},"color":{"datum":"r15,c8","type":"nominal","scale":{"domain":["r15,c8","r4,c8"],"range":["#2f86c5","#d95319"]},"legend":{"title":null,"orient":"none","legendX":182,"legendY":8,"fillColor":"white","strokeColor":"#666666","padding":0,"symbolType":"M-0.7,0L2.2,0","symbolSize":400,"symbolStrokeWidth":1,"labelOffset":17,"labelFontSize":12.5,"labelColor":"#333333","labelFont":"Liberation Sans","rowPadding":-4}}}},
{"data":{"name":"s5"},"mark":{"type":"line","strokeWidth":1},"encoding":{"x":{"field":"t","type":"quantitative"},"y":{"field":"v","type":"quantitative"},"color":{"datum":"r4,c8","type":"nominal"}}},
{"data":{"name":"lblD"},"mark":{"type":"text","fontWeight":"bold","fontSize":24,"color":"#000000","align":"center","baseline":"middle"},"encoding":{"x":{"field":"t","type":"quantitative"},"y":{"field":"v","type":"quantitative"},"text":{"field":"label"}}}
]}
],"spacing":56,"bounds":"flush","resolve":{"scale":{"color":"independent"},"legend":{"color":"independent"}}}
]}
